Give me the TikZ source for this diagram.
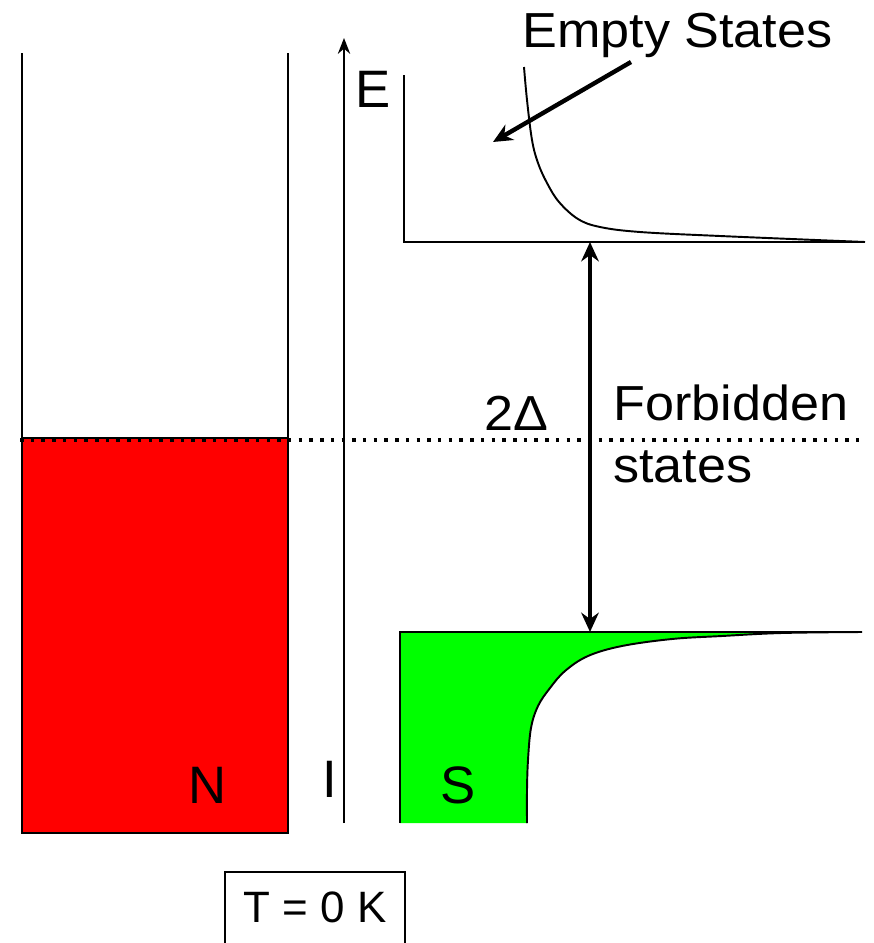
\documentclass[tikz,border=0pt]{standalone}
\usepackage{fontspec}
\setmainfont{Liberation Sans}
\newfontfamily\widesans{Liberation Sans}[FakeStretch=1.06]
\usetikzlibrary{arrows.meta,positioning}

\begin{document}
\begin{tikzpicture}[x=0.02cm,y=-0.02cm,>=Stealth,
  axis/.style={line width=1.5pt},
  dos/.style={line width=1.1pt},
  bigarrow/.style={line width=2.5pt,{Stealth[length=11pt,width=10pt]}-{Stealth[length=11pt,width=10pt]}},
  lbl/.style={inner sep=0pt,anchor=base,font=\fontsize{30}{36}\selectfont},
  txt/.style={inner sep=0pt,anchor=base west,font=\widesans\fontsize{28}{34}\selectfont}]
\useasboundingbox (0,0) rectangle (874,943);
% normal metal: filled up to the Fermi level
\draw[axis,fill=red] (22,438) rectangle (288,833);
\draw[axis] (22,53) -- (22,438) (288,53) -- (288,438);
% Fermi level
\draw[line width=2pt,dash pattern=on 2pt off 4.1pt] (20,440) -- (862,440);
% insulator / energy axis
\draw[dos,-{Stealth[length=9pt,width=7pt]}] (344,823) -- (344,38);
% superconductor: filled states below the gap
\fill[green] plot[smooth,tension=0.6] coordinates {(527,823) (527,790) (528,760)
  (531,728) (538,706) (550,688) (565,671) (588,656) (622,646) (672,639)
  (722,636) (782,633) (862,632)} -- (400,632) -- (400,823) -- cycle;
\draw[dos] plot[smooth,tension=0.6] coordinates {(527,823) (527,790) (528,760)
  (531,728) (538,706) (550,688) (565,671) (588,656) (622,646) (672,639)
  (722,636) (782,633) (862,632)};
\draw[axis] (400,823) |- (862,632);
% superconductor: empty states above the gap
\draw[axis] (404,75) |- (865,242);
\draw[dos] plot[smooth,tension=0.6] coordinates {(524,67) (527,100) (532,140)
  (538,163) (547,183) (559,202) (578,219) (600,227) (640,232) (720,236)
  (865,242)};
% labels
\node[txt] (empty) at (522,47) {Empty States};
\node[txt] (forbid) at (613,420) {Forbidden};
\node[txt] (states) at (613,482) {states};
\node[txt] (gap) at (484,430) {2Δ};
\node[lbl] (elab) at (373,107) {E};
\node[lbl] (nlab) at (208,803) {N};
\node[lbl] (ilab) at (330,797) {I};
\node[lbl] (slab) at (458,803) {S};
\node[draw,line width=1pt,inner sep=0pt,anchor=base,minimum width=3.6cm,
  text height=1cm,text depth=0.76cm,font=\fontsize{25}{30}\selectfont]
  (temp) at (315,922) {T = 0 K};
% arrows
\coordinate (emptytail) at (631,62);
\coordinate (emptyhead) at (493,142);
\draw[line width=2.5pt,-{Stealth[length=11pt,width=10pt]}] (emptytail) -- (emptyhead);
\coordinate (gaptop) at (590,242);
\coordinate (gapbot) at (590,632);
\draw[bigarrow] (gaptop) -- (gapbot);
\end{tikzpicture}
\end{document}
